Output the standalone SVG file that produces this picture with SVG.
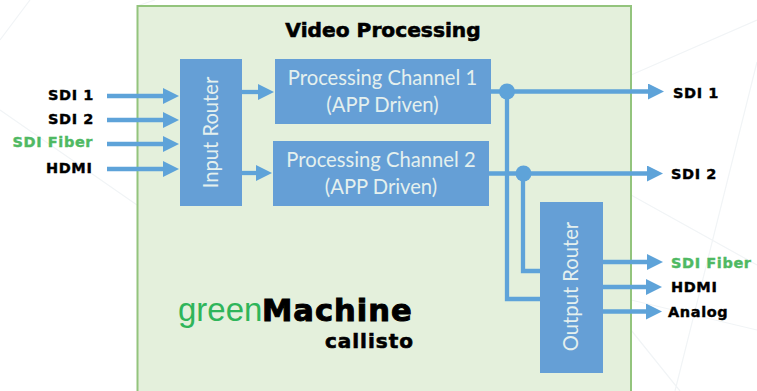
<svg xmlns="http://www.w3.org/2000/svg" width="757" height="391" viewBox="0 0 757 391">
<style>
.w{fill:none;stroke:#5ea3d9;stroke-width:4.300}
.bg{fill:none;stroke:#f1f4f6;stroke-width:1.200}
.box{fill:#659fd6}
.bt{fill:#e4f0ee;font-family:"Lato","Noto Sans",sans-serif;font-size:20.200px;text-anchor:middle}
.lb{font-family:"DejaVu Sans",sans-serif;font-weight:bold;font-size:14.500px;letter-spacing:.6px;fill:#000;stroke:#000;stroke-width:.4px}
.gr{fill:#4fb963;stroke:#4fb963}
.hv{font-family:"DejaVu Sans",sans-serif;font-weight:bold;fill:#000;stroke:#000;stroke-width:.6px}
</style>
<defs>
<marker id="a" markerUnits="userSpaceOnUse" markerWidth="16" markerHeight="16" refX="8" refY="8" orient="auto"><path d="M0 0L16 8L0 16Z" fill="#5ea3d9"/></marker>
</defs>
<rect width="757" height="391" fill="#fff"/>
<g id="background">
<path class="bg" d="M0 110L137 205M0 40L30 0M631 75L757 20M631 195L757 265M757 62L675 391M631 330L680 391M155 0L137 6M631 300L757 330"/>
</g>
<g id="video-processing">
<rect x="137.500" y="6" width="493.500" height="390" fill="#e4f0dc" stroke="#93c47d" stroke-width="2"/>
<text class="hv" x="383" y="37" font-size="20.200" text-anchor="middle">Video Processing</text>
</g>
<g id="connectors">
<path class="w" d="M107 96H171" marker-end="url(#a)"/>
<path class="w" d="M107 120H171" marker-end="url(#a)"/>
<path class="w" d="M107 144H171" marker-end="url(#a)"/>
<path class="w" d="M107 169H171" marker-end="url(#a)"/>
<path class="w" d="M242 92H266" marker-end="url(#a)"/>
<path class="w" d="M242 173H264" marker-end="url(#a)"/>
<path class="w" d="M491 91.500H656" marker-end="url(#a)"/>
<path class="w" d="M489 173.500H655" marker-end="url(#a)"/>
<path class="w" d="M507 91V299H540"/>
<path class="w" d="M523 173V271H540"/>
<path class="w" d="M602 262H655" marker-end="url(#a)"/>
<path class="w" d="M602 287H654" marker-end="url(#a)"/>
<path class="w" d="M602 311.500H654" marker-end="url(#a)"/>
<circle cx="507" cy="91.500" r="8" fill="#5ea3d9"/>
<circle cx="523.500" cy="173.500" r="8" fill="#5ea3d9"/>
</g>
<g id="input-router">
<rect class="box" x="180" y="59" width="62" height="147"/>
<text class="bt" transform="translate(218 132.500) rotate(-90)">Input Router</text>
</g>
<g id="processing-channel-1">
<rect class="box" x="275" y="59" width="216" height="65"/>
<text class="bt" x="382.500" y="85">Processing Channel 1</text>
<text class="bt" x="382.500" y="112">(APP Driven)</text>
</g>
<g id="processing-channel-2">
<rect class="box" x="273" y="141" width="216" height="65"/>
<text class="bt" x="381" y="167">Processing Channel 2</text>
<text class="bt" x="381" y="194">(APP Driven)</text>
</g>
<g id="output-router">
<rect class="box" x="540" y="202" width="63" height="171"/>
<text class="bt" transform="translate(578 286.500) rotate(-90)">Output Router</text>
</g>
<g id="inputs">
<text class="lb" x="48" y="100">SDI 1</text>
<text class="lb" x="48" y="124">SDI 2</text>
<text class="lb gr" x="12.500" y="147">SDI Fiber</text>
<text class="lb" x="46" y="173">HDMI</text>
</g>
<g id="outputs">
<text class="lb" x="673" y="98">SDI 1</text>
<text class="lb" x="671" y="179">SDI 2</text>
<text class="lb gr" x="671" y="268">SDI Fiber</text>
<text class="lb" x="671" y="292">HDMI</text>
<text class="lb" x="668" y="317">Analog</text>
</g>
<g id="logo">
<text x="178" y="321" font-family="'Liberation Sans',Arial,sans-serif" font-size="33" fill="#2fb55a">green</text>
<text class="hv" x="262" y="321" font-size="30.500" letter-spacing="1" style="stroke-width:1px">Machine</text>
<text class="hv" x="414" y="348" font-size="20" letter-spacing="1" text-anchor="end">callisto</text>
</g>
</svg>
